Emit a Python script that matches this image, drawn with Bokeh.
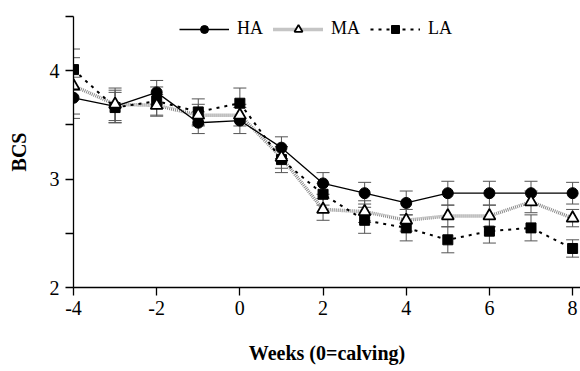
from bokeh.plotting import figure
from bokeh.models import (ColumnDataSource, Whisker, FixedTicker, Legend, LegendItem, TeeHead)
from bokeh.embed import file_html
from bokeh.resources import INLINE

weeks = [-4, -3, -2, -1, 0, 1, 2, 3, 4, 5, 6, 7, 8]
HA = [3.75, 3.67, 3.80, 3.52, 3.54, 3.29, 2.96, 2.87, 2.78, 2.87, 2.87, 2.87, 2.87]
HA_se = [0.19, 0.15, 0.11, 0.10, 0.12, 0.10, 0.10, 0.10, 0.11, 0.11, 0.11, 0.11, 0.10]
MA = [3.86, 3.69, 3.68, 3.59, 3.59, 3.20, 2.72, 2.70, 2.62, 2.66, 2.66, 2.79, 2.64]
MA_se = [0.26, 0.15, 0.10, 0.10, 0.10, 0.10, 0.10, 0.10, 0.10, 0.10, 0.10, 0.10, 0.08]
LA = [4.01, 3.66, 3.72, 3.62, 3.70, 3.18, 2.86, 2.62, 2.55, 2.44, 2.52, 2.55, 2.36]
LA_se = [0.19, 0.14, 0.13, 0.12, 0.14, 0.12, 0.10, 0.12, 0.12, 0.12, 0.11, 0.12, 0.08]

x_ticks = [-4, -2, 0, 2, 4, 6, 8]
x_labels = {-4: "-4", -2: "-2", 0: "0", 2: "2", 4: "4", 6: "6", 8: "8"}
y_ticks = [2, 2.5, 3, 3.5, 4, 4.5]
y_labels = {2: "2", 2.5: "", 3: "3", 3.5: "", 4: "4", 4.5: ""}

FONT = "Liberation Serif"

p = figure(width=580, height=371, x_range=(-4, 8.19), y_range=(2, 4.5),
           output_backend="svg", toolbar_location=None,
           min_border_left=73, min_border_right=0, min_border_top=16, min_border_bottom=84)
p.outline_line_color = None
p.xgrid.visible = False
p.ygrid.visible = False
p.background_fill_color = "white"

def src(vals, se):
    return ColumnDataSource(dict(x=weeks, y=vals,
                                 lo=[v - s for v, s in zip(vals, se)],
                                 hi=[v + s for v, s in zip(vals, se)]))

s_ha, s_ma, s_la = src(HA, HA_se), src(MA, MA_se), src(LA, LA_se)

for s in (s_la, s_ma, s_ha):
    w = Whisker(source=s, base="x", lower="lo", upper="hi",
                line_color="#555555", line_width=1,
                upper_head=TeeHead(size=13, line_color="#555555", line_width=1),
                lower_head=TeeHead(size=13, line_color="#555555", line_width=1))
    p.add_layout(w)

l_ma = p.line("x", "y", source=s_ma, line_color="#8a8a8a", line_width=3.5, line_dash="1 1")
l_la = p.line("x", "y", source=s_la, line_color="black", line_width=2, line_dash="3 5")
l_ha = p.line("x", "y", source=s_ha, line_color="black", line_width=1.3)

m_ha = p.scatter("x", "y", source=s_ha, marker="circle", size=11, fill_color="black", line_color="black")
m_la = p.scatter("x", "y", source=s_la, marker="square", size=10, fill_color="black", line_color="black")
m_ma = p.scatter("x", "y", source=s_ma, marker="triangle", size=12, fill_color="white",
                 line_color="black", line_width=1.8)

legend = Legend(items=[LegendItem(label="HA", renderers=[l_ha, m_ha]),
                       LegendItem(label="MA", renderers=[l_ma, m_ma]),
                       LegendItem(label="LA", renderers=[l_la, m_la])],
                location=(106, 248), orientation="horizontal")
legend.border_line_color = None
legend.background_fill_alpha = 0
legend.padding = 0
legend.margin = 0
legend.spacing = 10
legend.glyph_width = 50
legend.glyph_height = 20
legend.label_height = 20
legend.label_standoff = 8
legend.label_text_font = FONT
legend.label_text_font_size = "18px"
legend.label_text_color = "black"
p.add_layout(legend)

for ax in (p.xaxis[0], p.yaxis[0]):
    ax.axis_line_color = "black"
    ax.axis_line_width = 1.3
    ax.major_tick_line_color = "black"
    ax.major_tick_line_width = 1.3
    ax.major_tick_in = 0
    ax.major_tick_out = 8
    ax.minor_tick_line_color = None
    ax.major_label_text_font = FONT
    ax.major_label_text_font_size = "20px"
    ax.major_label_text_color = "black"
    ax.axis_label_text_font = FONT
    ax.axis_label_text_font_size = "20px"
    ax.axis_label_text_font_style = "bold"
    ax.axis_label_text_color = "black"

p.xaxis.ticker = FixedTicker(ticks=x_ticks)
p.xaxis.major_label_overrides = x_labels
p.xaxis.major_label_standoff = 5
p.xaxis.axis_label = "Weeks (0=calving)"
p.xaxis.axis_label_standoff = 24

p.yaxis.ticker = FixedTicker(ticks=y_ticks)
p.yaxis.major_label_overrides = y_labels
p.yaxis.major_label_standoff = 6
p.yaxis.axis_label = "BCS"
p.yaxis.axis_label_standoff = 17

open("out.html", "w").write(file_html(p, INLINE))
